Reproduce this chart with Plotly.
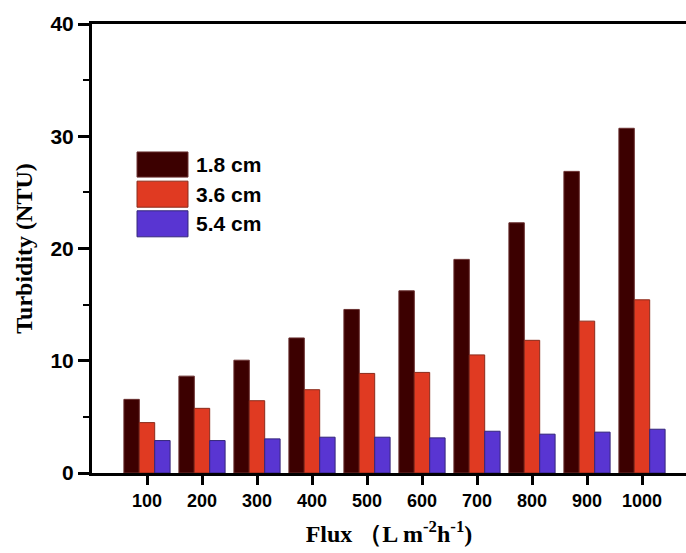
import plotly.graph_objects as go

flux = [100, 200, 300, 400, 500, 600, 700, 800, 900, 1000]
series_names = ["1.8 cm", "3.6 cm", "5.4 cm"]
turb_18 = [6.56, 8.63, 10.05, 12.03, 14.57, 16.23, 19.03, 22.29, 26.87, 30.71]
turb_36 = [4.49, 5.76, 6.44, 7.42, 8.87, 8.96, 10.52, 11.82, 13.53, 15.43]
turb_54 = [2.89, 2.89, 3.04, 3.19, 3.19, 3.13, 3.72, 3.46, 3.64, 3.90]
y_ticks = [0, 10, 20, 30, 40]

fills = ["#3c0000", "#e03a22", "#5935d2"]
edges = ["#6a3030", "#8a2a1a", "#34267a"]
series = [turb_18, turb_36, turb_54]

fig = go.Figure()
for name, vals, fc, ec in zip(series_names, series, fills, edges):
    fig.add_trace(go.Bar(x=flux, y=vals, name=name, marker=dict(color=fc, line=dict(color=ec, width=1)),
                         showlegend=False))

# manual legend with large swatches (paper coords)
sw_x0, sw_x1 = 0.0758, 0.1616
rows = [(0.659, 0.715), (0.592, 0.650), (0.526, 0.584)]
for (y0, y1), fc, ec, name in zip(rows, fills, edges, series_names):
    fig.add_shape(type="rect", xref="paper", yref="paper", x0=sw_x0, x1=sw_x1, y0=y0, y1=y1,
                  fillcolor=fc, line=dict(color=ec, width=1))
    fig.add_annotation(xref="paper", yref="paper", x=sw_x1 + 0.01, y=(y0 + y1) / 2, text=name,
                       showarrow=False, xanchor="left", yanchor="middle",
                       font=dict(family="Liberation Sans", size=21, color="black", weight="bold"))

fig.update_layout(
    width=686, height=553,
    margin=dict(l=92, r=0, t=24, b=80),
    paper_bgcolor="white", plot_bgcolor="white",
    barmode="group", bargap=0.16, bargroupgap=0,
    font=dict(family="Liberation Sans", size=19, color="black"),
)
fig.update_xaxes(
    range=[0, 1080], tickvals=flux, ticktext=[str(v) for v in flux],
    ticks="outside", ticklen=9, tickwidth=2.5, tickcolor="black",
    showline=True, linecolor="black", linewidth=3, mirror=True,
    showgrid=False, zeroline=False,
    tickfont=dict(family="Liberation Sans", size=18, color="black", weight="bold"),
    title=dict(text="Flux （L m<sup>-2</sup>h<sup>-1</sup>)", standoff=16,
               font=dict(family="Liberation Serif", size=24, color="black", weight="bold")),
)
fig.update_yaxes(
    range=[0, 40], tickvals=y_ticks,
    ticks="outside", ticklen=11, tickwidth=2.5, tickcolor="black",
    minor=dict(dtick=5, ticks="outside", ticklen=6, tickwidth=2, tickcolor="black"),
    showline=True, linecolor="black", linewidth=3, mirror=False,
    showgrid=False, zeroline=False,
    tickfont=dict(family="Liberation Sans", size=21, color="black", weight="bold"),
    title=dict(text="Turbidity (NTU)", standoff=12,
               font=dict(family="Liberation Serif", size=24, color="black", weight="bold")),
)

fig.write_html("out.html", config={"displayModeBar": False},
               post_script="document.body.style.margin='0px';")
